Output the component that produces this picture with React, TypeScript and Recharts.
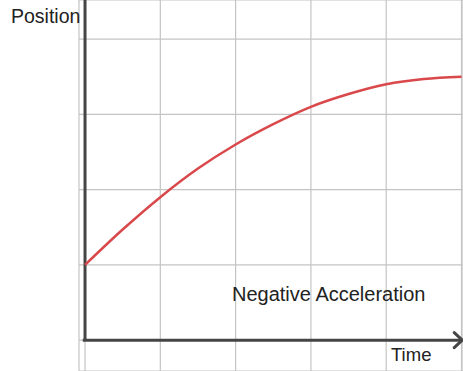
import { LineChart, Line, XAxis, YAxis, CartesianGrid, ReferenceLine } from "recharts";

// time steps (grid units) and position
const times = [0, 0.5, 1, 1.5, 2, 2.5, 3, 3.5, 4, 4.5, 5];
const positions = [1.0, 1.47, 1.9, 2.28, 2.6, 2.87, 3.1, 3.27, 3.4, 3.47, 3.5];
const timeTicks = [0, 1, 2, 3, 4, 5];
const positionTicks = [0, 1, 2, 3, 4];

const data = times.map((t, i) => ({ t, pos: positions[i] }));

const AXIS = "#454545";
const FONT = "'Liberation Sans', Arial, sans-serif";

function ArrowAxis(props: any) {
  const { x1, y1, x2, y2 } = props;
  return (
    <g>
      <line x1={x1} y1={y1} x2={x2} y2={y2} stroke={AXIS} strokeWidth={3} />
      <path
        d={`M${x2 - 8},${y2 - 7.5} L${x2},${y2} L${x2 - 8},${y2 + 7.5}`}
        fill="none"
        stroke={AXIS}
        strokeWidth={3}
        strokeLinecap="round"
        strokeLinejoin="round"
      />
    </g>
  );
}

export default function App() {
  return (
    <div style={{ position: "fixed", left: 0, top: 0, width: 463, height: 371, background: "#fff" }}>
      <LineChart width={463} height={371} data={data} margin={{ top: 0, right: 0, bottom: 0, left: 79 }}>
        <XAxis type="number" dataKey="t" domain={[-0.08, 5.02]} ticks={timeTicks} allowDataOverflow hide />
        <YAxis type="number" domain={[-0.41, 4.52]} ticks={positionTicks} allowDataOverflow hide />
        <CartesianGrid stroke="#c4c4c4" strokeWidth={1.2} />
        <ReferenceLine
          segment={[{ x: 0, y: 0 }, { x: 0, y: 4.52 }]}
          stroke={AXIS}
          strokeWidth={3}
        />
        <ReferenceLine
          segment={[{ x: -0.03, y: 0 }, { x: 5.01, y: 0 }]}
          shape={<ArrowAxis />}
        />
        <Line
          type="monotone"
          dataKey="pos"
          stroke="#d9484b"
          strokeWidth={2.5}
          dot={false}
          activeDot={false}
          isAnimationActive={false}
        />
      </LineChart>
      <div style={{ position: "absolute", left: 11, top: 4, fontFamily: FONT, fontSize: 19.5, color: "#222", lineHeight: "24px" }}>
        Position
      </div>
      <div style={{ position: "absolute", left: 232, top: 282, fontFamily: FONT, fontSize: 20, color: "#222", lineHeight: "24px" }}>
        Negative Acceleration
      </div>
      <div style={{ position: "absolute", left: 391, top: 343, fontFamily: FONT, fontSize: 18.5, color: "#222", lineHeight: "24px" }}>
        Time
      </div>
    </div>
  );
}
